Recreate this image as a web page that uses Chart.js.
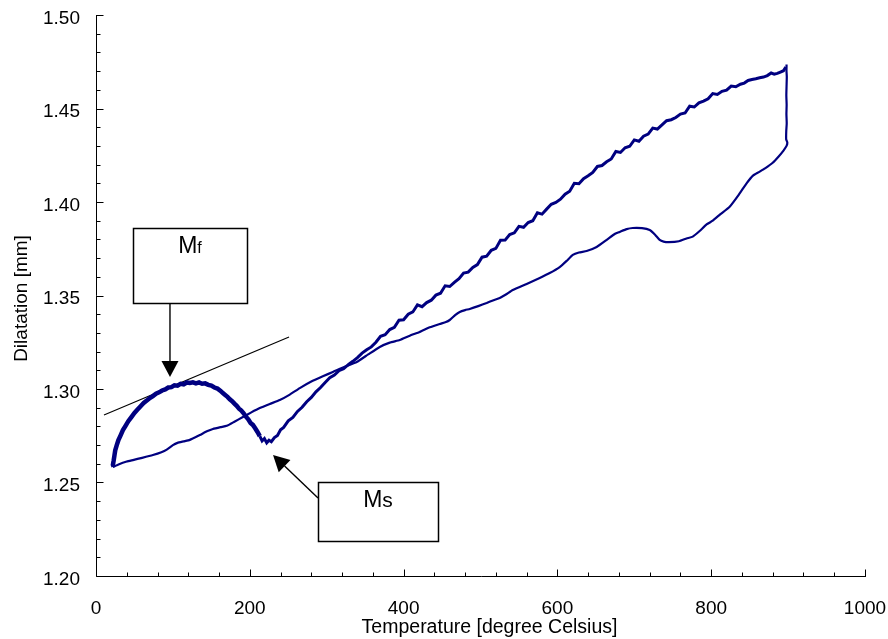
<!DOCTYPE html>
<html><head><meta charset="utf-8">
<script src="https://cdn.jsdelivr.net/npm/chart.js@4.4.1/dist/chart.umd.min.js"></script>
<style>html,body{margin:0;padding:0;background:#fff}#wrap{width:888px;height:639px}</style>
</head><body><div id="wrap"><canvas id="c" width="888" height="639"></canvas></div>
<script>
// ---- data ----
const xTickValues = [0, 200, 400, 600, 800, 1000];
const xTickLabels = ['0', '200', '400', '600', '800', '1000'];
const yTickValues = [1.20, 1.25, 1.30, 1.35, 1.40, 1.45, 1.50];
const yTickLabels = ['1.20', '1.25', '1.30', '1.35', '1.40', '1.45', '1.50'];
const xTitle = 'Temperature [degree Celsius]';
const yTitle = 'Dilatation [mm]';

const heatingTemp = [22,30,40,48,60,74,85,92,100,106,114,122,135,145,152,162,170,180,191,202,213,226,239,252,265,280,295,308,324,339,354,369,382,395,408,421,434,447,455,460,467,473,480,486,497,508,517,525,533,542,560,577,590,603,612,620,628,638,651,665,675,681,690,698,710,720,727,733,738,745,758,768,776,785,794,802,812,824,836,846,854,862,870,880,888,894,898,899,897.5,897.6,898.2,897.8,898.1,897.7,898.0,898.3,897.9,898.0];
const heatingDil = [1.2583,1.2598,1.2612,1.2620,1.2632,1.2647,1.2662,1.2676,1.2700,1.2712,1.2720,1.2728,1.2754,1.2775,1.2786,1.2796,1.2803,1.2825,1.2850,1.2875,1.2898,1.2920,1.2941,1.2970,1.3005,1.3040,1.3068,1.3091,1.3120,1.3144,1.3185,1.3225,1.3248,1.3262,1.3285,1.3305,1.3330,1.3348,1.3358,1.3369,1.3395,1.3412,1.3422,1.3428,1.3443,1.3460,1.3475,1.3487,1.3505,1.3529,1.3562,1.3594,1.3620,1.3652,1.3685,1.3717,1.3730,1.3738,1.3759,1.3800,1.3830,1.3840,1.3855,1.3861,1.3860,1.3850,1.3825,1.3797,1.3788,1.3785,1.3790,1.3805,1.3815,1.3845,1.3880,1.3900,1.3935,1.3975,1.4040,1.4100,1.4140,1.4160,1.4180,1.4210,1.4245,1.4275,1.4300,1.4318,1.4335,1.4380,1.4420,1.4470,1.4520,1.4570,1.4620,1.4670,1.4700,1.4735];

const coolingTemp = [897,894,890,886,882,878,873,868,863,858,853,848,843,838,832,826,820,814,808,802,796,790,784,778,772,766,760,754,748,742,736,730,724,718,712,706,700,694,688,682,676,670,664,658,652,646,640,634,628,622,616,610,604,598,592,586,580,574,568,562,556,550,544,538,532,526,520,514,508,502,496,490,484,478,472,466,460,454,448,442,436,430,424,418,412,406,400,394,388,382,376,370,364,358,352,346,340,334,328,322,316,310,304,298,292,286,280,274,268,262,256,250,244,240,236,232,228,225,222,219,216,213,210,207,204,201,198,195,192,189,186,183,180,177,174,171,168,165,162,158,154,150,146,142,138,134,130,126,122,118,114,110,106,102,98,94,90,86,82,78,74,70,66,62,58,54,50,46,42,38,35,32,29,27,25,24,23,22,23];
const coolingDil = [1.4722,1.4702,1.4695,1.4688,1.4684,1.4690,1.4676,1.4668,1.4664,1.4659,1.4655,1.4650,1.4636,1.4630,1.4616,1.4620,1.4598,1.4592,1.4575,1.4580,1.4552,1.4540,1.4530,1.4508,1.4512,1.4476,1.4470,1.4452,1.4440,1.4435,1.4412,1.4390,1.4395,1.4363,1.4352,1.4325,1.4332,1.4298,1.4290,1.4265,1.4270,1.4230,1.4215,1.4195,1.4190,1.4158,1.4140,1.4125,1.4098,1.4100,1.4058,1.4042,1.4015,1.3998,1.3988,1.3962,1.3935,1.3942,1.3900,1.3890,1.3865,1.3870,1.3835,1.3826,1.3796,1.3795,1.3752,1.3742,1.3710,1.3705,1.3665,1.3650,1.3625,1.3620,1.3590,1.3570,1.3548,1.3552,1.3512,1.3502,1.3475,1.3462,1.3440,1.3450,1.3412,1.3400,1.3370,1.3368,1.3330,1.3318,1.3290,1.3282,1.3250,1.3225,1.3210,1.3192,1.3168,1.3148,1.3130,1.3108,1.3098,1.3075,1.3060,1.3035,1.3008,1.2985,1.2955,1.2932,1.2902,1.2880,1.2848,1.2830,1.2795,1.2782,1.2752,1.2740,1.2718,1.2726,1.2712,1.2735,1.2722,1.2748,1.2770,1.2790,1.2808,1.2818,1.2838,1.2852,1.2870,1.2885,1.2895,1.2910,1.2922,1.2935,1.2945,1.2958,1.2968,1.2978,1.2990,1.3002,1.3008,1.3018,1.3022,1.3030,1.3028,1.3035,1.3030,1.3036,1.3032,1.3035,1.3025,1.3028,1.3018,1.3020,1.3010,1.3008,1.2998,1.2992,1.2982,1.2975,1.2962,1.2952,1.2938,1.2925,1.2908,1.2890,1.2872,1.2850,1.2828,1.2800,1.2780,1.2752,1.2725,1.2700,1.2672,1.2645,1.2618,1.2595,1.2585];

const tangentTemp = [10.4, 251];
const tangentDil = [1.2861, 1.3278];

// annotation boxes (data units)
const annotations = [
  { main: 'M', sub: 'f', subSize: 16, box: [48, 196.5, 1.3861, 1.3460], from: [96.2, 1.3460], to: [96.2, 1.3064] },
  { main: 'M', sub: 's', subSize: 21, box: [288.7, 444.7, 1.2503, 1.2187], from: [288.7, 1.2417], to: [230.2, 1.2647] }
];

const pair = (xs, ys) => xs.map((x, i) => ({ x: x, y: ys[i] }));
const FONT = "'Liberation Sans', Arial, Helvetica, sans-serif";
const NAVY = 'rgb(0,0,128)';

const decor = {
  id: 'decor',
  afterDraw(chart) {
    const ctx = chart.ctx, xs = chart.scales.x, ys = chart.scales.y;
    const L = Math.round(xs.left) + 0.5, B = Math.round(ys.bottom) + 0.5;
    ctx.save();
    ctx.strokeStyle = '#000'; ctx.lineWidth = 1;
    ctx.beginPath();
    ctx.moveTo(L, Math.round(ys.top)); ctx.lineTo(L, B); ctx.lineTo(Math.round(xs.right) + 1, B);
    ctx.stroke();
    ctx.beginPath();
    for (let v = 0; v <= 1000 + 1e-6; v += 40) {
      const px = Math.round(xs.getPixelForValue(v)) + 0.5;
      const len = (Math.abs(v % 200) < 1e-6) ? 7 : 4;
      ctx.moveTo(px, B); ctx.lineTo(px, B - len);
    }
    for (let k = 0; k <= 30; k++) {
      const v = 1.20 + k * 0.01;
      const py = Math.round(ys.getPixelForValue(v)) + 0.5;
      const len = (k % 5 === 0) ? 7 : 4;
      ctx.moveTo(L, py); ctx.lineTo(L + len, py);
    }
    ctx.stroke();
    // tick labels
    ctx.fillStyle = '#000';
    ctx.font = '19px ' + FONT;
    ctx.textAlign = 'center'; ctx.textBaseline = 'alphabetic';
    xTickValues.forEach((v, i) => ctx.fillText(xTickLabels[i], xs.getPixelForValue(v), B + 37));
    ctx.textAlign = 'right';
    yTickValues.forEach((v, i) => ctx.fillText(yTickLabels[i], xs.left - 16, ys.getPixelForValue(v) + 8.5));
    // titles
    ctx.textAlign = 'center';
    ctx.font = '19.5px ' + FONT;
    ctx.fillText(xTitle, (xs.left + xs.right) / 2 + 9, 633);
    ctx.font = '19px ' + FONT;
    ctx.save();
    ctx.translate(27, (ys.top + ys.bottom) / 2 + 3);
    ctx.rotate(-Math.PI / 2);
    ctx.fillText(yTitle, 0, 0);
    ctx.restore();
    // annotations
    annotations.forEach(a => {
      const x1 = xs.getPixelForValue(a.box[0]), x2 = xs.getPixelForValue(a.box[1]);
      const y1 = ys.getPixelForValue(a.box[2]), y2 = ys.getPixelForValue(a.box[3]);
      ctx.lineWidth = 1.5; ctx.strokeStyle = '#000';
      ctx.fillStyle = '#fff';
      ctx.fillRect(x1, y1, x2 - x1, y2 - y1);
      ctx.strokeRect(Math.round(x1) + 0.5, Math.round(y1) + 0.5, Math.round(x2 - x1), Math.round(y2 - y1));
      ctx.fillStyle = '#000';
      ctx.font = '23px ' + FONT;
      const wm = ctx.measureText(a.main).width;
      ctx.font = a.subSize + 'px ' + FONT;
      const ws = ctx.measureText(a.sub).width;
      const cx = (x1 + x2) / 2, base = y1 + 25;
      ctx.textAlign = 'left';
      ctx.font = '23px ' + FONT;
      ctx.fillText(a.main, cx - (wm + ws) / 2, base);
      ctx.font = a.subSize + 'px ' + FONT;
      ctx.fillText(a.sub, cx - (wm + ws) / 2 + wm, base);
      const fx = xs.getPixelForValue(a.from[0]), fy = ys.getPixelForValue(a.from[1]);
      const tx = xs.getPixelForValue(a.to[0]), ty = ys.getPixelForValue(a.to[1]);
      const ang = Math.atan2(ty - fy, tx - fx);
      const hl = 16, hw = 8.5;
      const bx = tx - hl * Math.cos(ang), by = ty - hl * Math.sin(ang);
      ctx.lineWidth = 1.4;
      ctx.beginPath(); ctx.moveTo(fx, fy); ctx.lineTo(bx, by); ctx.stroke();
      ctx.beginPath();
      ctx.moveTo(tx, ty);
      ctx.lineTo(bx + hw * Math.sin(ang), by - hw * Math.cos(ang));
      ctx.lineTo(bx - hw * Math.sin(ang), by + hw * Math.cos(ang));
      ctx.closePath(); ctx.fill();
    });
    ctx.restore();
  }
};

new Chart(document.getElementById('c'), {
  type: 'scatter',
  data: {
    datasets: [
      { label: 'heating', data: pair(heatingTemp, heatingDil), showLine: true, borderColor: NAVY, borderWidth: 2.2, pointRadius: 0, tension: 0.15, fill: false },
      { label: 'cooling', data: pair(coolingTemp, coolingDil), showLine: true, borderColor: NAVY, borderWidth: 3, pointRadius: 0, tension: 0, fill: false,
        segment: { borderWidth: c => (c.p0.parsed.x < 215 ? 4.5 : 3) } },
      { label: 'tangent', data: pair(tangentTemp, tangentDil), showLine: true, borderColor: '#000', borderWidth: 1.2, pointRadius: 0, fill: false }
    ]
  },
  options: {
    responsive: false, animation: false,
    layout: { padding: { top: 15, right: 23, left: 0, bottom: 0 } },
    plugins: { legend: { display: false }, tooltip: { enabled: false } },
    scales: {
      x: {
        type: 'linear', min: 0, max: 1000,
        grid: { display: false, drawTicks: false }, border: { display: false },
        afterBuildTicks: s => { s.ticks = xTickValues.map(v => ({ value: v })); },
        afterFit: s => { s.height = 63; },
        ticks: { display: false }
      },
      y: {
        type: 'linear', min: 1.20, max: 1.50,
        grid: { display: false, drawTicks: false }, border: { display: false },
        afterBuildTicks: s => { s.ticks = yTickValues.map(v => ({ value: v })); },
        afterFit: s => { s.width = 96; },
        ticks: { display: false }
      }
    }
  },
  plugins: [decor]
});
</script></body></html>
